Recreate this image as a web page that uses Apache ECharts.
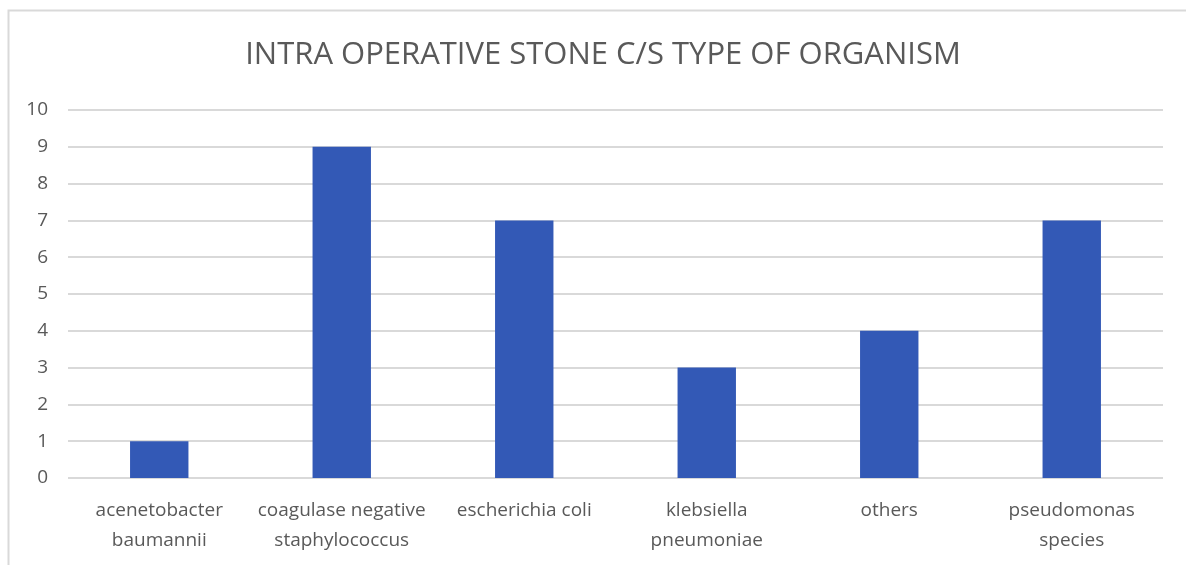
<!DOCTYPE html>
<html>
<head>
<meta charset="utf-8">
<script src="https://cdn.jsdelivr.net/npm/echarts@6/dist/echarts.min.js"></script>
<style>
  html, body { margin: 0; padding: 0; background: #fff; }
  #chart { width: 1186px; height: 565px; }
</style>
</head>
<body>
<div id="chart"></div>
<script>
const titleText = 'INTRA OPERATIVE STONE C/S TYPE OF ORGANISM';
const categories = [
  'acenetobacter\nbaumannii',
  'coagulase negative\nstaphylococcus',
  'escherichia coli',
  'klebsiella\npneumoniae',
  'others',
  'pseudomonas\nspecies'
];
const counts = [1, 9, 7, 3, 4, 7];

const textColor = '#595959';
const gridColor = '#d9d9d9';
const barColor = '#3359b6';

const chart = echarts.init(document.getElementById('chart'));

chart.setOption({
  animation: false,
  textStyle: { fontFamily: '"Open Sans", sans-serif' },
  graphic: [{
    type: 'rect',
    shape: { x: 8.5, y: 10.5, width: 1200, height: 600 },
    style: { fill: 'none', stroke: gridColor, lineWidth: 2 },
    silent: true
  }],
  title: {
    text: titleText,
    left: 598,
    top: 35,
    textAlign: 'center',
    textStyle: {
      color: textColor,
      fontSize: 31,
      fontWeight: 'normal',
      fontFamily: '"Open Sans", sans-serif'
    }
  },
  grid: { left: 68, right: 23, top: 110, bottom: 87, containLabel: false },
  xAxis: {
    type: 'category',
    data: categories,
    axisTick: { show: false },
    axisLine: { show: false },
    axisLabel: {
      color: textColor,
      fontSize: 19,
      lineHeight: 30,
      margin: 18,
      interval: 0
    }
  },
  yAxis: {
    type: 'value',
    min: 0,
    max: 10,
    interval: 1,
    axisLine: { show: false },
    axisTick: { show: false },
    axisLabel: { color: textColor, fontSize: 19, margin: 20 },
    splitLine: { lineStyle: { color: gridColor, width: 2 } }
  },
  series: [{
    type: 'bar',
    data: counts,
    barWidth: '32%',
    itemStyle: { color: barColor }
  }]
});
</script>
</body>
</html>
